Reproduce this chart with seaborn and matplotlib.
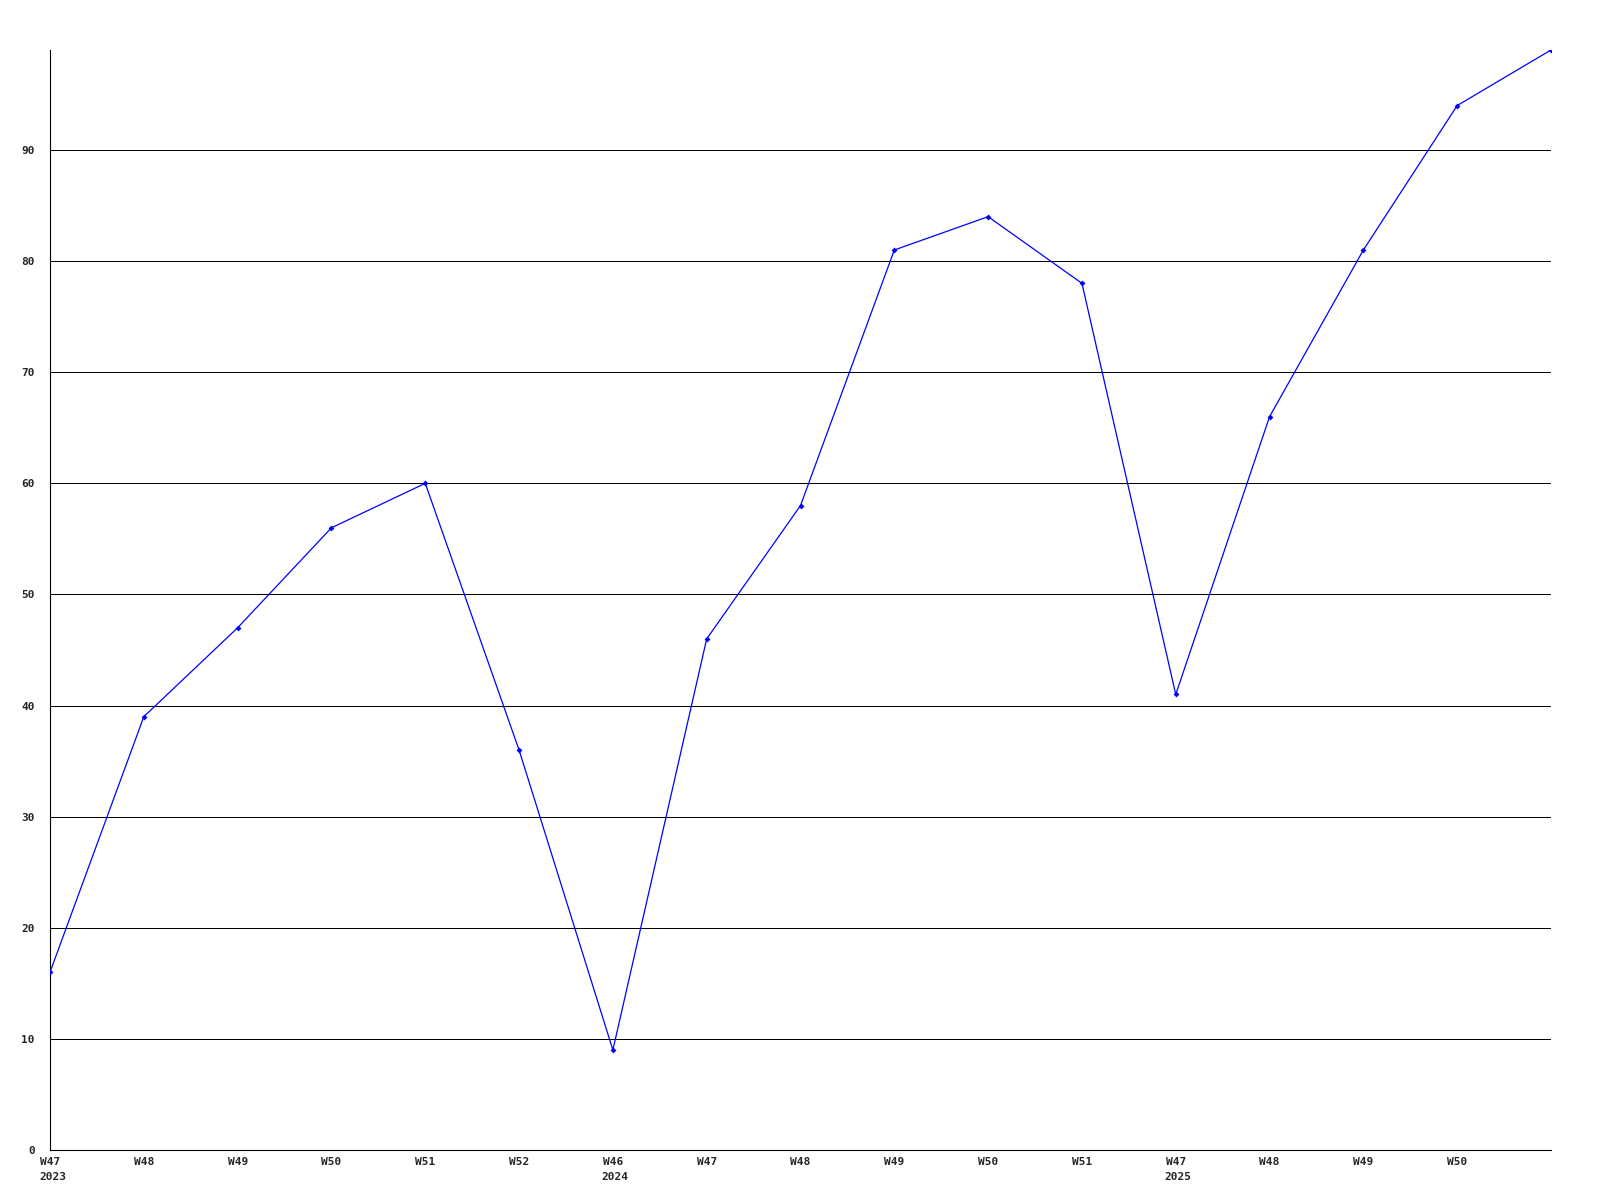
# weekly values line chart, pixel-style look
import pandas as pd
import seaborn as sns
import matplotlib.pyplot as plt

sns.set_style("white")
plt.rcParams['font.family'] = ['DejaVu Sans Mono']

# data
weeks = ["W47", "W48", "W49", "W50", "W51", "W52",
         "W46", "W47", "W48", "W49", "W50", "W51",
         "W47", "W48", "W49", "W50"]
years = {0: "2023", 6: "2024", 12: "2025"}
values = [16, 39, 47, 56, 60, 36, 9, 46, 58, 81, 84, 78, 41, 66, 81, 94, 99]

df = pd.DataFrame({"idx": range(len(values)), "value": values})

fig = plt.figure(figsize=(16, 12), dpi=100)
ax = fig.add_axes([50 / 1600, 50 / 1200, 1501 / 1600, 1100 / 1200])

# horizontal grid lines, 1px
for y in range(10, 100, 10):
    ax.axhline(y, color="black", linewidth=0.72, antialiased=False, zorder=1)

sns.lineplot(data=df, x="idx", y="value", ax=ax, color="#0000ff",
             linewidth=0.9, marker="D", markersize=3, markeredgewidth=0,
             zorder=3)

ax.set_xlim(0, 16)
ax.set_ylim(0, 99)
ax.set_xlabel("")
ax.set_ylabel("")

ax.set_yticks(range(0, 100, 10))
ax.set_yticklabels([str(v) for v in range(0, 100, 10)],
                   fontsize=8, fontweight="bold")

ax.set_xticks(range(len(weeks)))
ax.set_xticklabels(weeks, fontsize=8, fontweight="bold", ha="center", va="top")

# year under the first week of each year, left aligned with the week label
for i, yr in years.items():
    ax.annotate(yr, xy=(i, 0), xycoords=("data", "axes fraction"),
                xytext=(-8, -15.5), textcoords="offset points",
                ha="left", va="top", fontsize=8, fontweight="bold")

ax.tick_params(axis="both", length=0)
ax.tick_params(axis="x", pad=5)
ax.tick_params(axis="y", pad=11)

for side in ["top", "right"]:
    ax.spines[side].set_visible(False)
for side in ["left", "bottom"]:
    ax.spines[side].set_color("black")
    ax.spines[side].set_linewidth(0.8)

fig.savefig("out.png", dpi=100, facecolor="white")
